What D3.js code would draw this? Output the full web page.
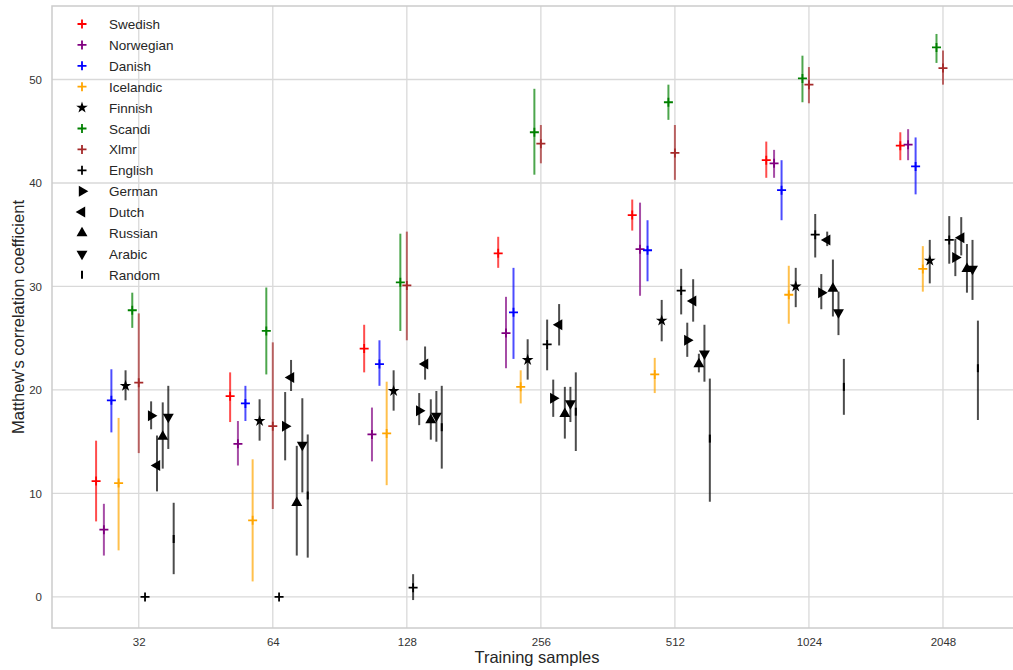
<!DOCTYPE html>
<html>
<head>
<meta charset="utf-8">
<script src="https://cdn.jsdelivr.net/npm/d3@7"></script>
<style>
  body { margin: 0; background: #fff; }
  text { font-family: "Liberation Sans", Arial, sans-serif; }
</style>
</head>
<body>
<svg id="chart" width="1013" height="670"></svg>
<script>
// training sizes on the x axis
const categories = [32, 64, 128, 256, 512, 1024, 2048]
const yTicks = [0, 10, 20, 30, 40, 50]

const languages = ['Swedish', 'Norwegian', 'Danish', 'Icelandic', 'Finnish', 'Scandi', 'Xlmr',
  'English', 'German', 'Dutch', 'Russian', 'Arabic', 'Random']

// mean score per training size, then the lower / upper end of the error bar
const swedish = [11.2, 19.4, 24.0, 33.2, 36.9, 42.2, 43.6]
const swedishLow = [7.3, 16.9, 21.7, 31.8, 35.4, 40.5, 42.2]
const swedishHigh = [15.1, 21.7, 26.3, 34.8, 38.4, 44.0, 44.9]

const norwegian = [6.5, 14.8, 15.7, 25.5, 33.6, 41.9, 43.7]
const norwegianLow = [4.0, 12.7, 13.1, 22.1, 29.1, 40.5, 42.2]
const norwegianHigh = [9.0, 17.0, 18.3, 29.0, 38.1, 43.2, 45.2]

const danish = [19.0, 18.7, 22.5, 27.5, 33.5, 39.3, 41.6]
const danishLow = [15.9, 17.0, 20.4, 23.0, 30.5, 36.4, 38.9]
const danishHigh = [22.0, 20.4, 24.8, 31.8, 36.4, 42.2, 44.4]

const icelandic = [11.0, 7.4, 15.8, 20.3, 21.5, 29.2, 31.7]
const icelandicLow = [4.5, 1.5, 10.8, 18.7, 19.7, 26.4, 29.5]
const icelandicHigh = [17.3, 13.3, 20.8, 21.9, 23.1, 32.0, 33.9]

const finnish = [20.4, 17.0, 19.9, 22.9, 26.7, 30.0, 32.5]
const finnishLow = [19.0, 15.1, 18.0, 21.0, 24.7, 28.0, 30.3]
const finnishHigh = [21.9, 19.1, 21.9, 24.9, 28.7, 31.8, 34.5]

const scandi = [27.7, 25.7, 30.4, 44.9, 47.8, 50.1, 53.1]
const scandiLow = [26.0, 21.5, 25.7, 40.8, 46.1, 47.8, 51.6]
const scandiHigh = [29.4, 29.9, 35.1, 49.1, 49.5, 52.3, 54.4]

const xlmr = [20.7, 16.5, 30.1, 43.8, 42.9, 49.5, 51.1]
const xlmrLow = [13.9, 8.5, 24.8, 41.9, 40.3, 47.7, 49.5]
const xlmrHigh = [27.4, 24.6, 35.3, 45.6, 45.6, 51.2, 52.8]

const english = [0.0, 0.0, 0.9, 24.4, 29.6, 35.0, 34.5]
const englishLow = [0.0, 0.0, -0.3, 21.9, 27.3, 32.8, 32.2]
const englishHigh = [0.0, 0.0, 2.2, 26.8, 31.7, 37.0, 36.8]

const german = [17.5, 16.5, 18.0, 19.2, 24.8, 29.4, 32.8]
const germanLow = [16.2, 13.2, 16.6, 17.4, 23.2, 27.8, 31.0]
const germanHigh = [18.9, 19.8, 19.7, 21.0, 26.5, 31.2, 34.6]

const dutch = [12.7, 21.2, 22.5, 26.3, 28.6, 34.5, 34.7]
const dutchLow = [10.2, 19.9, 21.0, 24.3, 26.6, 33.9, 33.0]
const dutchHigh = [15.6, 22.9, 24.2, 28.3, 30.7, 35.3, 36.7]

const russian = [15.5, 9.1, 17.1, 17.7, 22.5, 29.8, 31.7]
const russianLow = [12.4, 4.0, 15.2, 15.3, 21.7, 27.1, 29.4]
const russianHigh = [18.8, 14.6, 19.1, 20.3, 23.5, 32.6, 34.1]

const arabic = [17.4, 14.7, 17.5, 18.7, 23.5, 27.5, 31.7]
const arabicLow = [14.3, 10.1, 15.0, 16.9, 20.8, 25.3, 28.7]
const arabicHigh = [20.4, 19.2, 19.9, 20.3, 26.3, 29.5, 34.5]

const random = [5.6, 9.8, 16.4, 17.9, 15.3, 20.3, 22.1]
const randomLow = [2.2, 3.8, 12.4, 14.1, 9.2, 17.6, 17.1]
const randomHigh = [9.1, 15.7, 20.4, 21.7, 21.1, 23.0, 26.7]

const means = [swedish, norwegian, danish, icelandic, finnish, scandi, xlmr,
  english, german, dutch, russian, arabic, random]
const lows = [swedishLow, norwegianLow, danishLow, icelandicLow, finnishLow, scandiLow, xlmrLow,
  englishLow, germanLow, dutchLow, russianLow, arabicLow, randomLow]
const highs = [swedishHigh, norwegianHigh, danishHigh, icelandicHigh, finnishHigh, scandiHigh, xlmrHigh,
  englishHigh, germanHigh, dutchHigh, russianHigh, arabicHigh, randomHigh]

const colors = ['red', 'purple', 'blue', 'orange', 'black', 'green', 'brown',
  'black', 'black', 'black', 'black', 'black', 'black']
const markers = ['plus', 'plus', 'plus', 'plus', 'star', 'plus', 'plus',
  'plus', 'right', 'left', 'up', 'down', 'vline']

const svg = d3.select('#chart')
const plotLeft = 52, plotRight = 1022, plotTop = 6, plotBottom = 628

// each series is nudged by a factor of the size, so the log axis spreads them evenly
const spread = 0.033
function xPos (c, i) { return c * (1 + (i - 6) * spread) }

const xMin = 32 * (1 - 6 * spread), xMax = 2048 * (1 + 6 * spread)
const lMin = Math.log2(xMin), lMax = Math.log2(xMax)
const pad = (lMax - lMin) * 0.05

const xScale = d3.scaleLog().base(2)
  .domain([Math.pow(2, lMin - pad), Math.pow(2, lMax + pad)])
  .range([plotLeft, plotRight])

const yScale = d3.scaleLinear().domain([-3.0, 57.1]).range([plotBottom, plotTop])

// grid
svg.append('g')
  .selectAll('line')
  .data(categories)
  .enter()
  .append('line')
  .attr('x1', d => xScale(d)).attr('x2', d => xScale(d))
  .attr('y1', plotTop).attr('y2', plotBottom)
  .attr('stroke', '#d9d9d9').attr('stroke-width', 1.3)

svg.append('g')
  .selectAll('line')
  .data(yTicks)
  .enter()
  .append('line')
  .attr('x1', plotLeft).attr('x2', plotRight)
  .attr('y1', d => yScale(d)).attr('y2', d => yScale(d))
  .attr('stroke', '#d9d9d9').attr('stroke-width', 1.3)

// frame
svg.append('rect')
  .attr('x', plotLeft).attr('y', plotTop)
  .attr('width', plotRight - plotLeft).attr('height', plotBottom - plotTop)
  .attr('fill', 'none').attr('stroke', '#cccccc').attr('stroke-width', 1.5)

// axes (text only, seaborn style has no tick marks)
const xAxis = svg.append('g')
  .attr('transform', 'translate(0,' + plotBottom + ')')
  .call(d3.axisBottom(xScale).tickValues(categories).tickFormat(d3.format('d')).tickSize(0).tickPadding(10))
xAxis.select('.domain').remove()
xAxis.selectAll('text').attr('font-size', 11.5).attr('fill', '#333')
  .attr('font-family', '"Liberation Sans", Arial, sans-serif')

const yAxis = svg.append('g')
  .attr('transform', 'translate(' + plotLeft + ',0)')
  .call(d3.axisLeft(yScale).tickValues(yTicks).tickSize(0).tickPadding(10))
yAxis.select('.domain').remove()
yAxis.selectAll('text').attr('font-size', 11.5).attr('fill', '#333')
  .attr('font-family', '"Liberation Sans", Arial, sans-serif')

svg.append('text')
  .attr('x', (plotLeft + plotRight) / 2).attr('y', 663)
  .attr('text-anchor', 'middle')
  .attr('font-size', 16.5).attr('fill', '#262626')
  .text('Training samples')

svg.append('text')
  .attr('transform', 'translate(24,' + (plotBottom + plotTop) / 2 + ') rotate(-90)')
  .attr('text-anchor', 'middle')
  .attr('font-size', 16.5).attr('fill', '#262626')
  .text("Matthew's correlation coefficient")

/**
 * Draws one marker shape at (x, y).
 */
function drawMarker (g, kind, x, y, color) {
  if (kind === 'plus') {
    g.append('path')
      .attr('d', 'M' + (x - 4.5) + ',' + y + 'H' + (x + 4.5) + 'M' + x + ',' + (y - 4.5) + 'V' + (y + 4.5))
      .attr('stroke', color).attr('stroke-width', 1.8).attr('fill', 'none')
  } else if (kind === 'vline') {
    g.append('path')
      .attr('d', 'M' + x + ',' + (y - 4) + 'V' + (y + 4))
      .attr('stroke', color).attr('stroke-width', 2).attr('fill', 'none')
  } else {
    const sym = kind === 'star' ? d3.symbolStar : d3.symbolTriangle
    const size = kind === 'star' ? 42 : 52
    const rot = { star: 0, up: 0, right: 90, down: 180, left: -90 }[kind]
    g.append('path')
      .attr('d', d3.symbol().type(sym).size(size)())
      .attr('transform', 'translate(' + x + ',' + y + ') rotate(' + rot + ')')
      .attr('fill', color)
  }
}

// error bars + markers
languages.forEach(function (lang, i) {
  const g = svg.append('g').attr('class', 'series')
  categories.forEach(function (c, k) {
    const x = xScale(xPos(c, i))
    g.append('line')
      .attr('x1', x).attr('x2', x)
      .attr('y1', yScale(lows[i][k])).attr('y2', yScale(highs[i][k]))
      .attr('stroke', colors[i]).attr('stroke-width', 2)
      .attr('stroke-opacity', 0.7)
    drawMarker(g, markers[i], x, yScale(means[i][k]), colors[i])
  })
})

// legend
const legend = svg.append('g')
languages.forEach(function (lang, i) {
  const y = 24 + i * 20.9
  drawMarker(legend, markers[i], 82, y, colors[i])
  legend.append('text')
    .attr('x', 109).attr('y', y + 5)
    .attr('font-size', 13.5).attr('fill', '#262626')
    .text(lang)
})
</script>
</body>
</html>
